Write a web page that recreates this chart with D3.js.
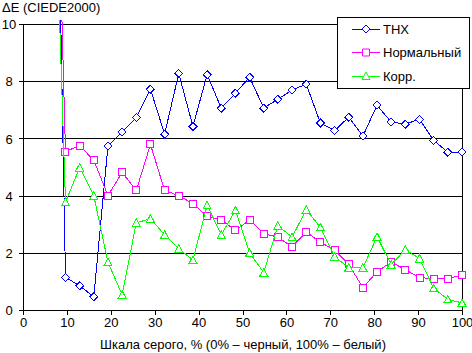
<!DOCTYPE html>
<html>
<head>
<meta charset="utf-8">
<script src="https://cdn.jsdelivr.net/npm/d3@7"></script>
<style>
  body { margin: 0; background: #fff; }
  svg { display: block; font-family: "Liberation Sans", Arial, sans-serif; }
</style>
</head>
<body>
<svg></svg>
<script>
// grey level, % (one step = 100/31)
const grey = [6.45, 9.68, 12.9, 16.13, 19.35, 22.58, 25.81, 29.03, 32.26, 35.48,
    38.71, 41.94, 45.16, 48.39, 51.61, 54.84, 58.06, 61.29, 64.52, 67.74,
    70.97, 74.19, 77.42, 80.65, 83.87, 87.1, 90.32, 93.55, 96.77, 100]

const thx = [28, 1.14, 0.85, 0.46, 5.74, 6.22, 6.73, 7.72, 6.15, 8.27,
    6.42, 8.23, 7.06, 7.58, 8.14, 7.06, 7.37, 7.69, 7.9, 6.54,
    6.27, 6.74, 6.08, 7.16, 6.57, 6.5, 6.67, 5.93, 5.52, 5.52]

const normal = [24, 5.54, 5.75, 5.23, 4.0, 4.81, 4.18, 5.79, 4.18, 4.0,
    3.72, 3.27, 3.15, 2.78, 3.15, 2.67, 2.55, 2.21, 2.73, 2.37,
    2.1, 1.6, 0.78, 1.34, 1.68, 1.41, 1.13, 1.1, 1.09, 1.23]

const corr = [19, 3.77, 4.98, 3.99, 1.67, 0.53, 3.05, 3.19, 2.63, 2.14,
    1.75, 3.66, 2.63, 3.48, 2.0, 1.31, 2.95, 2.55, 3.51, 2.89,
    1.87, 1.48, 1.48, 2.56, 1.59, 2.11, 1.8, 0.76, 0.37, 0.25]

const xTicks = [0, 10, 20, 30, 40, 50, 60, 70, 80, 90, 100]
const yTicks = [0, 2, 4, 6, 8, 10]

const series = [
    {name: 'THX', values: thx, color: '#0000ff', marker: 'diamond'},
    {name: 'Нормальный', values: normal, color: '#ff00ff', marker: 'square'},
    {name: 'Корр.', values: corr, color: '#00ff00', marker: 'triangle'}
]

const
    W = 472,
    H = 353,
    LEFT = 23,
    RIGHT = 462,
    TOP = 24,
    BOTTOM = 310,
    FONT = '13px'

const svg = d3.select('svg')
    .attr('width', W)
    .attr('height', H)

const x = d3.scaleLinear().domain([0, 100]).range([LEFT, RIGHT])
const y = d3.scaleLinear().domain([0, 10]).range([BOTTOM, TOP])

const markerPath = {
    diamond: 'M0,-4L4,0L0,4L-4,0Z',
    square: 'M-3.5,-3.5H3.5V3.5H-3.5Z',
    triangle: 'M0,-4L4,3.5L-4,3.5Z'
}

// gridlines + y ticks (ticks stick out 4px left of the axis)
const yAxis = svg.append('g')
    .attr('transform', `translate(${RIGHT},0)`)
    .call(d3.axisLeft(y).tickValues(yTicks).tickSize(RIGHT - LEFT + 4).tickFormat(d3.format('d')))
    .attr('shape-rendering', 'crispEdges')
yAxis.select('.domain').remove()
yAxis.selectAll('line').attr('stroke', '#000')
yAxis.selectAll('text')
    .attr('x', 9 - RIGHT)
    .attr('dy', '0.36em')
    .attr('text-anchor', 'middle')
    .attr('fill', '#000')
    .style('font-size', FONT)
    .style('font-family', '"Liberation Sans", Arial, sans-serif')

// frame: left, bottom, right
svg.append('path')
    .attr('d', `M${LEFT},${TOP}V${BOTTOM}H${RIGHT}V${TOP}`)
    .attr('fill', 'none')
    .attr('stroke', '#000')
    .attr('shape-rendering', 'crispEdges')

const xAxis = svg.append('g')
    .attr('transform', `translate(0,${BOTTOM})`)
    .call(d3.axisBottom(x).tickValues(xTicks).tickSize(5).tickPadding(3))
    .attr('shape-rendering', 'crispEdges')
xAxis.select('.domain').remove()
xAxis.selectAll('line').attr('stroke', '#000')
xAxis.selectAll('text')
    .attr('fill', '#000')
    .style('font-size', FONT)
    .style('font-family', '"Liberation Sans", Arial, sans-serif')

svg.append('clipPath').attr('id', 'plot')
    .append('rect').attr('x', 0).attr('y', TOP - 4).attr('width', W).attr('height', H)

const line = d3.line().x((d, i) => x(grey[i])).y(d => y(d))

const plot = svg.append('g')
    .attr('clip-path', 'url(#plot)')
    .attr('shape-rendering', 'crispEdges')

series.forEach(s => {
    plot.append('path')
        .datum(s.values)
        .attr('d', line)
        .attr('fill', 'none')
        .attr('stroke', s.color)
        .attr('stroke-width', 1)

    plot.selectAll(null)
        .data(s.values)
        .enter()
        .append('path')
            .attr('d', markerPath[s.marker])
            .attr('transform', (d, i) => `translate(${x(grey[i])},${y(d)})`)
            .attr('fill', '#fff')
            .attr('stroke', s.color)
})

svg.append('text')
    .attr('x', 2)
    .attr('y', 12)
    .style('font-size', FONT)
    .text('ΔE (CIEDE2000)')

svg.append('text')
    .attr('x', (LEFT + RIGHT) / 2 + 0.5)
    .attr('y', 349)
    .attr('text-anchor', 'middle')
    .style('font-size', FONT)
    .text('Шкала серого, % (0% – черный, 100% – белый)')

// legend
const legend = svg.append('g').attr('transform', 'translate(337,17)')
legend.append('rect')
    .attr('x', 0.5).attr('y', 0.5)
    .attr('width', 132).attr('height', 71)
    .attr('fill', '#fff')
    .attr('stroke', '#000')

series.forEach((s, i) => {
    const ly = 12 + i * 23.5
    legend.append('line')
        .attr('x1', 15).attr('x2', 43)
        .attr('y1', ly).attr('y2', ly)
        .attr('stroke', s.color)
        .attr('shape-rendering', 'crispEdges')
    legend.append('path')
        .attr('d', markerPath[s.marker])
        .attr('transform', `translate(29,${ly})`)
        .attr('fill', '#fff')
        .attr('stroke', s.color)
    legend.append('text')
        .attr('x', 46)
        .attr('y', ly)
        .attr('dy', '0.36em')
        .style('font-size', FONT)
        .text(s.name)
})
</script>
</body>
</html>
